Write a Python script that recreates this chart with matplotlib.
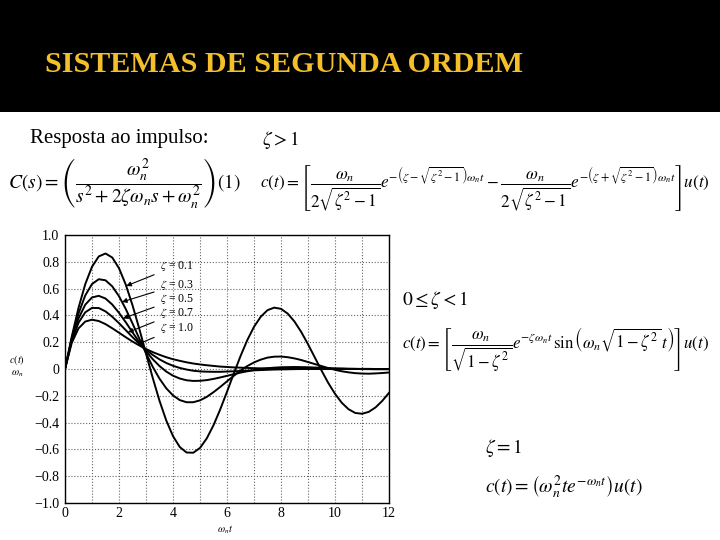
import matplotlib
matplotlib.use("Agg")
import matplotlib.pyplot as plt
from matplotlib.patches import Rectangle
from matplotlib.ticker import MultipleLocator

plt.rcParams['font.family'] = ['Liberation Serif', 'DejaVu Serif']
plt.rcParams['mathtext.fontset'] = 'stix'

# valeurs (c(t)/wn en fonction de wn*t)
t = [0, 0.25, 0.5, 0.75, 1.0, 1.25, 1.5, 1.75, 2.0, 2.25, 2.5, 2.75, 3.0, 3.25, 3.5, 3.75,
     4.0, 4.25, 4.5, 4.75, 5.0, 5.25, 5.5, 5.75, 6.0, 6.25, 6.5, 6.75, 7.0, 7.25, 7.5, 7.75,
     8.0, 8.25, 8.5, 8.75, 9.0, 9.25, 9.5, 9.75, 10.0, 10.25, 10.5, 10.75, 11.0, 11.25, 11.5, 11.75, 12.0]
c_01 = [0, 0.241, 0.456, 0.633, 0.763, 0.840, 0.862, 0.832, 0.752, 0.630, 0.476, 0.301, 0.116, -0.067,
        -0.237, -0.384, -0.501, -0.582, -0.623, -0.625, -0.589, -0.518, -0.420, -0.301, -0.170, -0.035,
        0.096, 0.215, 0.315, 0.390, 0.439, 0.458, 0.449, 0.413, 0.354, 0.276, 0.185, 0.087, -0.011,
        -0.104, -0.185, -0.252, -0.300, -0.328, -0.334, -0.320, -0.287, -0.238, -0.178]
c_03 = [0, 0.230, 0.414, 0.549, 0.634, 0.670, 0.662, 0.617, 0.543, 0.448, 0.340, 0.228, 0.118, 0.016,
        -0.072, -0.144, -0.197, -0.232, -0.248, -0.248, -0.234, -0.208, -0.173, -0.134, -0.092, -0.051,
        -0.012, 0.022, 0.049, 0.070, 0.085, 0.092, 0.093, 0.088, 0.079, 0.067, 0.052, 0.037, 0.022,
        0.007, -0.006, -0.017, -0.025, -0.031, -0.034, -0.035, -0.033, -0.030, -0.026]
c_05 = [0, 0.219, 0.377, 0.480, 0.534, 0.546, 0.526, 0.481, 0.419, 0.349, 0.274, 0.201, 0.133, 0.073,
        0.022, -0.019, -0.050, -0.071, -0.084, -0.089, -0.088, -0.083, -0.074, -0.063, -0.051, -0.039,
        -0.027, -0.017, -0.008, 0.0, 0.006, 0.010, 0.013, 0.014, 0.015, 0.014, 0.013, 0.011, 0.009,
        0.007, 0.005, 0.004, 0.002, 0.001, -0.001, -0.001, -0.002, -0.002, -0.002]
c_07 = [0, 0.209, 0.345, 0.423, 0.456, 0.455, 0.430, 0.390, 0.342, 0.290, 0.238, 0.189, 0.144, 0.105,
        0.072, 0.045, 0.024, 0.008, -0.004, -0.013, -0.018, -0.020, -0.021, -0.021, -0.019, -0.017,
        -0.015, -0.012, -0.010, -0.008, -0.006, -0.004, -0.003, -0.002, -0.001, 0.0, 0.0, 0.001, 0.001,
        0.001, 0.001, 0.001, 0.001, 0.001, 0.001, 0.001, 0.0, 0.0, 0.0]
c_10 = [0, 0.195, 0.303, 0.354, 0.368, 0.358, 0.335, 0.304, 0.271, 0.237, 0.205, 0.176, 0.149, 0.126,
        0.106, 0.088, 0.073, 0.061, 0.050, 0.041, 0.034, 0.028, 0.023, 0.018, 0.015, 0.012,
        0.010, 0.008, 0.006, 0.005, 0.004, 0.003, 0.003, 0.002, 0.002, 0.001, 0.001, 0.001, 0.001,
        0.001, 0.0, 0.0, 0.0, 0.0, 0.0, 0.0, 0.0, 0.0, 0.0]

courbes = [c_01, c_03, c_05, c_07, c_10]
etiquettes = [r'$\zeta$ = 0.1', r'$\zeta$ = 0.3', r'$\zeta$ = 0.5', r'$\zeta$ = 0.7', r'$\zeta$ = 1.0']
# pointe des flèches sur les courbes, texte à droite
pointes = [(2.27, 0.62), (2.11, 0.50), (2.15, 0.378), (2.33, 0.274), (2.70, 0.185)]
textes_y = [0.77, 0.627, 0.522, 0.418, 0.306]

yticks = [-1.0, -0.8, -0.6, -0.4, -0.2, 0, 0.2, 0.4, 0.6, 0.8, 1.0]
ytick_labels = ['\u22121.0', '\u22120.8', '\u22120.6', '\u22120.4', '\u22120.2', '0',
                '0.2', '0.4', '0.6', '0.8', '1.0']
xticks = [0, 2, 4, 6, 8, 10, 12]

W, H = 720, 540
fig = plt.figure(figsize=(7.2, 5.4), dpi=100)
fig.patch.set_facecolor('white')

# bandeau noir du titre
fig.patches.append(Rectangle((0, 1 - 112 / H), 1, 112 / H, transform=fig.transFigure,
                             facecolor='black', edgecolor='none', zorder=0))
fig.text(45 / W, 1 - 65 / H, 'SISTEMAS DE SEGUNDA ORDEM', color='#F3BF2A',
         fontsize=21.7, fontweight='bold', va='center', ha='left')

fig.text(30 / W, 1 - 138 / H, 'Resposta ao impulso:', fontsize=15, va='center')

fig.text(8 / W, 1 - 184 / H,
         r'$C(s)=\left(\dfrac{\omega_n^2}{s^2+2\zeta\omega_n s+\omega_n^2}\right)(1)$',
         fontsize=14, va='center')

fig.text(262 / W, 1 - 140 / H, r'$\zeta>1$', fontsize=14, va='center')
fig.text(260 / W, 1 - 188 / H,
         r'$c(t)=\left[\dfrac{\omega_n}{2\sqrt{\zeta^2-1}}e^{-\left(\zeta-\sqrt{\zeta^2-1}\right)\omega_n t}'
         r'-\dfrac{\omega_n}{2\sqrt{\zeta^2-1}}e^{-\left(\zeta+\sqrt{\zeta^2-1}\right)\omega_n t}\right]u(t)$',
         fontsize=12.3, va='center')

fig.text(402 / W, 1 - 300 / H, r'$0\leq\zeta<1$', fontsize=14, va='center')
fig.text(402 / W, 1 - 350 / H,
         r'$c(t)=\left[\dfrac{\omega_n}{\sqrt{1-\zeta^2}}e^{-\zeta\omega_n t}\,'
         r'\sin\left(\omega_n\sqrt{1-\zeta^2}\,t\right)\right]u(t)$',
         fontsize=12.2, va='center')

fig.text(485 / W, 1 - 448 / H, r'$\zeta=1$', fontsize=14, va='center')
fig.text(485 / W, 1 - 487 / H, r'$c(t)=\left(\omega_n^2 t e^{-\omega_n t}\right)u(t)$',
         fontsize=14, va='center')

# graphique
ax = fig.add_axes([65 / W, 1 - 503 / H, (389 - 65) / W, (503 - 235) / H])
for c in courbes:
    ax.plot(t, c, color='black', lw=1.4)

for lab, (px, py), ty in zip(etiquettes, pointes, textes_y):
    ax.annotate(lab, xy=(px, py), xytext=(3.5, ty), fontsize=8.5, va='center', ha='left',
                arrowprops=dict(arrowstyle='-|>', color='black', lw=0.8,
                                mutation_scale=7, shrinkA=2, shrinkB=0))

ax.set_xlim(0, 12)
ax.set_ylim(-1, 1)
ax.set_xticks(xticks)
ax.set_xticklabels([str(v) for v in xticks])
ax.set_yticks(yticks)
ax.set_yticklabels(ytick_labels)
ax.xaxis.set_minor_locator(MultipleLocator(1))
ax.tick_params(which='both', length=0, labelsize=10, pad=4)
ax.tick_params(axis='x', pad=3)
ax.grid(which='both', color='#666666', linestyle=':', linewidth=0.8)
for s in ax.spines.values():
    s.set_linewidth(1.0)

fig.text(17 / W, 1 - 360 / H, r'$c(t)$', fontsize=7.5, ha='center', va='center')
fig.text(17 / W, 1 - 374 / H, r'$\omega_n$', fontsize=7.5, ha='center', va='center')
fig.text(225 / W, 1 - 530 / H, r'$\omega_n t$', fontsize=7.5, ha='center', va='center')

fig.savefig('out.png', dpi=100)
